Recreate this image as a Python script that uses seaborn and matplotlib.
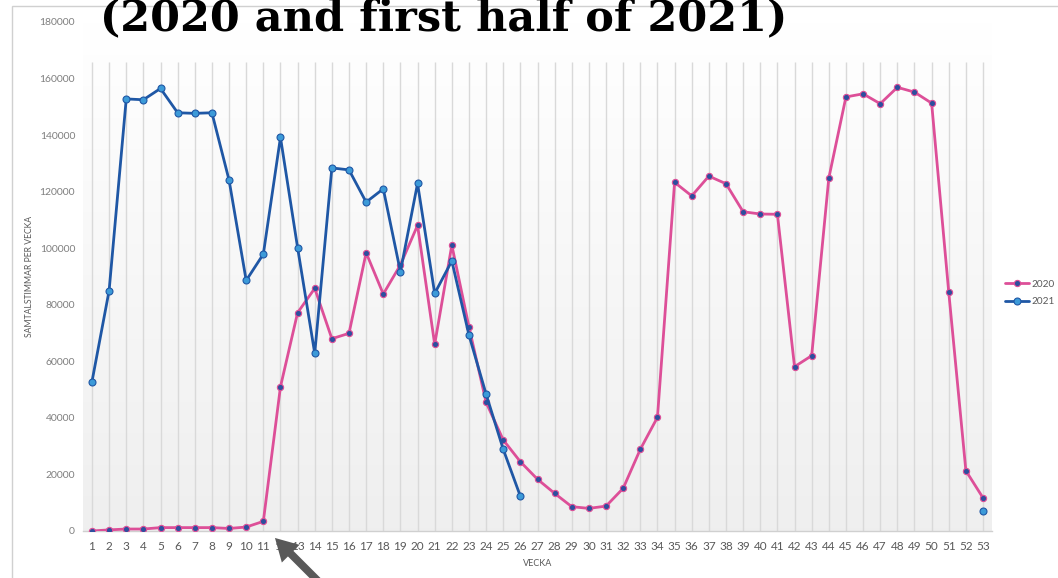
import numpy as np
import pandas as pd
import matplotlib
matplotlib.use("Agg")
import matplotlib.pyplot as plt
import seaborn as sns
from matplotlib.patches import Rectangle, FancyArrowPatch, ArrowStyle
from matplotlib.lines import Line2D

# ---- data ----
weeks = list(range(1, 54))
y2020 = [0, 400, 700, 700, 1200, 1200, 1200, 1200, 900, 1400, 3400,
         51000, 77200, 85800, 68000, 69900, 98400, 83800, 94100, 108100,
         66000, 101100, 72200, 45500, 32200, 24500, 18300, 13300, 8600,
         8000, 8800, 15100, 28900, 40200, 123300, 118500, 125500, 122800,
         112900, 112100, 112000, 58100, 62000, 124800, 153500, 154600,
         151100, 156900, 155200, 151300, 84400, 21300, 11700]
y2021_first = [52800, 85000, 152800, 152500, 156500, 147900, 147700, 147900,
               124100, 88600, 97900, 139200, 100200, 62800, 128400, 127700,
               116300, 121000, 91700, 122900, 84000, 95500, 69300, 48400,
               28900, 12300]
y2021_week53 = 7000
series_names = ["2020", "2021"]
title_text = "(2020 and first half of 2021)"
y_ticks = [0, 20000, 40000, 60000, 80000, 100000, 120000, 140000, 160000, 180000]

df2020 = pd.DataFrame({"VECKA": weeks, "value": y2020})
df2021 = pd.DataFrame({"VECKA": weeks[:len(y2021_first)], "value": y2021_first})
df2021b = pd.DataFrame({"VECKA": [53], "value": [y2021_week53]})

W, H = 1058, 578
fig = plt.figure(figsize=(W / 100, H / 100), dpi=100)
sns.set_style("white")
plt.rcParams["font.family"] = ["Lato", "DejaVu Sans"]

L, R, T, B = 83.4, 991.6, 22, 531
ax = fig.add_axes([L / W, 1 - B / H, (R - L) / W, (B - T) / H])

pink = "#dd4f98"
pink_marker = "#2d4f9e"
blue = "#1f57a5"
blue_marker = "#3c9ad8"

sns.lineplot(data=df2020, x="VECKA", y="value", ax=ax, color=pink, lw=2.0,
             marker="o", markersize=4.5, markerfacecolor=pink_marker,
             markeredgecolor=pink, markeredgewidth=0.8, zorder=4)
sns.lineplot(data=df2021, x="VECKA", y="value", ax=ax, color=blue, lw=2.0,
             marker="o", markersize=5, markerfacecolor=blue_marker,
             markeredgecolor=blue, markeredgewidth=0.8, zorder=5)
sns.scatterplot(data=df2021b, x="VECKA", y="value", ax=ax, color=blue_marker,
                s=25, edgecolor=blue, linewidth=0.8, zorder=5)

# gradient background
grad = np.linspace(1.0, 0.0, 256).reshape(-1, 1)
top_c = np.array([1.0, 1.0, 1.0])
bot_c = np.array([0.937, 0.937, 0.937])
img = grad[..., None] * top_c + (1 - grad[..., None]) * bot_c
ax.imshow(img, extent=[0, 1, 0, 1], transform=ax.transAxes, aspect="auto",
          zorder=0, interpolation="bilinear")

ax.set_xlim(0.5, 53.5)
ax.set_ylim(0, 180000)
# vertical gridlines (plot area of the original starts a little below the top tick)
ax.vlines(weeks, 0, 166000, colors="#d9d9d9", lw=1.0, zorder=1)
ax.set_xticks(weeks)
ax.set_xticklabels([str(w) for w in weeks])
ax.set_yticks(y_ticks)
ax.set_yticklabels([str(v) for v in y_ticks])
ax.grid(False)
for s in ["left", "top", "right"]:
    ax.spines[s].set_visible(False)
ax.spines["bottom"].set_color("#d0d0d0")
ax.spines["bottom"].set_linewidth(1.0)
ax.tick_params(axis="x", length=0, pad=7, labelsize=8.5, labelcolor="#595959")
ax.tick_params(axis="y", length=0, pad=6, labelsize=7.5, labelcolor="#7f7f7f")
ax.set_xlabel("")
ax.set_ylabel("")

fig.text(30 / W, 1 - 276 / H, "SAMTALSTIMMAR PER VECKA", rotation=90,
         ha="center", va="center", fontsize=6.2, color="#595959")
fig.text(538 / W, 1 - 563 / H, "VECKA", ha="center", va="center",
         fontsize=6.5, color="#595959")

# legend
handles = [
    Line2D([], [], color=pink, lw=2.0, marker="o", markersize=4.5,
           markerfacecolor=pink_marker, markeredgecolor=pink, markeredgewidth=0.8),
    Line2D([], [], color=blue, lw=2.0, marker="o", markersize=5,
           markerfacecolor=blue_marker, markeredgecolor=blue, markeredgewidth=0.8),
]
fig.legend(handles, series_names, loc="center left",
           bbox_to_anchor=(997 / W, 1 - 293 / H), frameon=False,
           fontsize=7.2, labelcolor="#595959", handlelength=2.4,
           handletextpad=0.2, labelspacing=0.85, borderpad=0.3)

# chart frame
fig.patches.append(Rectangle((12 / W, -0.02), 1.05, 1 - 6 / H + 0.02,
                             transform=fig.transFigure, fill=False,
                             edgecolor="#d0d0d0", lw=1.0, zorder=0))

# cut-off title
fig.text(100 / W, 1 - 30 / H, title_text, ha="left", va="baseline",
         fontsize=31, fontweight="bold", family="DejaVu Serif", color="#000000")

# arrow
fig.patches.append(FancyArrowPatch((322 / W, 1 - 585 / H), (273 / W, 1 - 536 / H),
                                   transform=fig.transFigure,
                                   arrowstyle=ArrowStyle.Simple(head_length=0.8, head_width=0.9, tail_width=0.28),
                                   mutation_scale=20, color="#595959", lw=0))

fig.savefig("out.png", dpi=100)
